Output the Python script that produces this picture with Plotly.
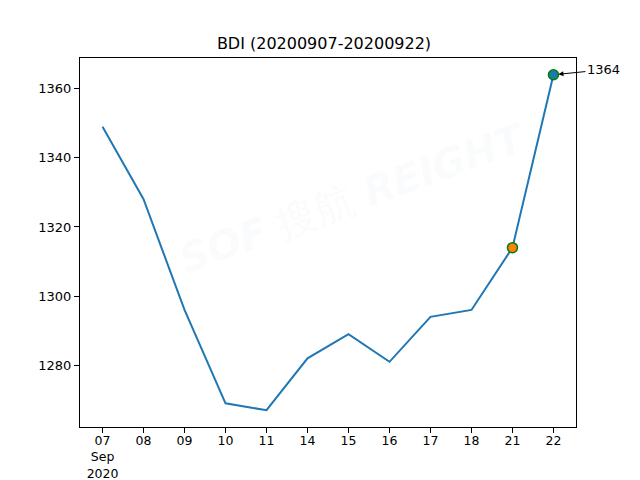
import plotly.graph_objects as go

days = ["07", "08", "09", "10", "11", "14", "15", "16", "17", "18", "21", "22"]
tick_labels = ["07<br>Sep<br>2020", "08", "09", "10", "11", "14", "15", "16", "17", "18", "21", "22"]
bdi = [1349, 1328, 1296, 1269, 1267, 1282, 1289, 1281, 1294, 1296, 1314, 1364]
x_idx = list(range(len(days)))

fig = go.Figure()
fig.add_trace(go.Scatter(x=x_idx, y=bdi, mode="lines",
                         line=dict(color="#1f77b4", width=2), showlegend=False))
fig.add_trace(go.Scatter(x=[x_idx[10]], y=[bdi[10]], mode="markers",
                         marker=dict(size=10, color="#ff7f0e", line=dict(color="green", width=1.5)),
                         showlegend=False))
fig.add_trace(go.Scatter(x=[x_idx[11]], y=[bdi[11]], mode="markers",
                         marker=dict(size=10, color="#1f77b4", line=dict(color="green", width=1.5)),
                         showlegend=False))

fig.add_annotation(x=x_idx[11], y=bdi[11], text=str(bdi[11]), showarrow=True,
                   arrowhead=2, arrowsize=1, arrowwidth=1, arrowcolor="black",
                   ax=50, ay=-5, xanchor="center", standoff=5,
                   font=dict(family="DejaVu Sans", size=13, color="black"))

# faint watermark
fig.add_annotation(x=0.55, y=0.62, xref="paper", yref="paper", text="<i><b>SOF</b></i> 搜航 <i><b>REIGHT</b></i>",
                   showarrow=False, textangle=-20,
                   font=dict(family="DejaVu Sans", size=40, color="rgba(200,215,230,0.09)"))

axis_common = dict(showline=True, linecolor="black", linewidth=1, mirror=True,
                   ticks="outside", ticklen=5, tickcolor="black", showgrid=False,
                   zeroline=False, automargin=False,
                   tickfont=dict(family="DejaVu Sans", size=13, color="black"))

fig.update_layout(
    width=632, height=472,
    margin=dict(l=72, r=64, t=50, b=53),
    plot_bgcolor="white", paper_bgcolor="white",
    title=dict(text="BDI (20200907-20200922)", x=0.5, xanchor="center", y=0.924, yanchor="middle",
               font=dict(family="DejaVu Sans", size=16, color="black"), automargin=False),
    xaxis=dict(range=[-0.55, 11.55], tickvals=x_idx, ticktext=tick_labels, **axis_common),
    yaxis=dict(range=[1262.15, 1368.85], tickvals=[1280, 1300, 1320, 1340, 1360], **axis_common),
)
fig.update_xaxes(tickfont=dict(size=12.5), ticklabelstandoff=-3)

fig.write_html("out.html")
